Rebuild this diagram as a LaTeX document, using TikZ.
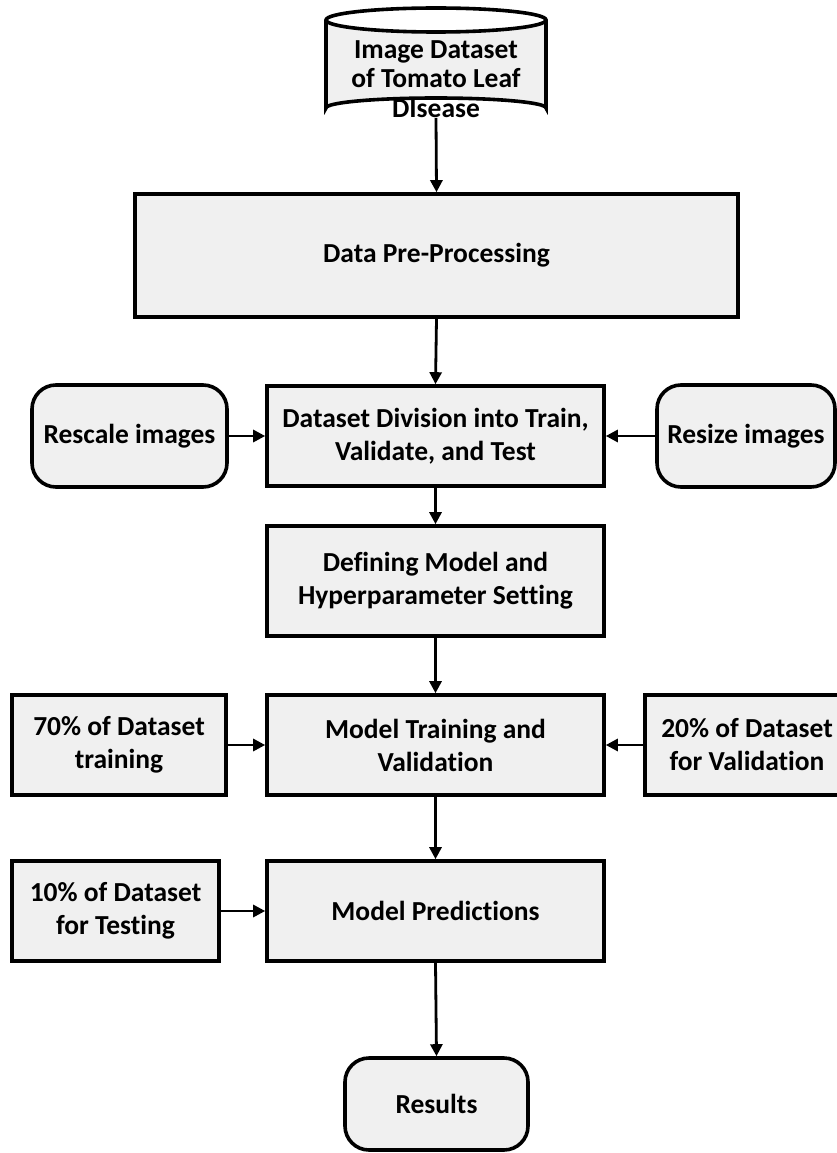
\documentclass[tikz,border=0pt]{standalone}
\usepackage{fontspec}
\setmainfont{Carlito}[Ligatures=NoCommon]
\usetikzlibrary{arrows.meta}

\definecolor{boxfill}{HTML}{F0F0F0}

\tikzset{
  base/.style={draw=black, line width=3.6pt, fill=boxfill, align=center,
    font=\fontsize{27.5}{33}\selectfont\bfseries, inner sep=0pt},
  stepbox/.style={base, rectangle},
  roundbox/.style={base, rectangle, rounded corners=24pt},
  flow/.style={line width=2.8pt, -{Triangle[length=12pt,width=12pt]}},
}

\begin{document}
\begin{tikzpicture}[x=1pt, y=-1pt]
  \useasboundingbox (0,0) rectangle (837,1153);

  % dataset store drawn as a cylinder
  \fill[boxfill] (326,20) -- (326,108) arc[start angle=180, end angle=360, x radius=110, y radius=10]
    -- (546,20) arc[start angle=0, end angle=180, x radius=110, y radius=12] -- cycle;
  \draw[line width=3.6pt] (326,20) -- (326,108) arc[start angle=180, end angle=360, x radius=110, y radius=10]
    -- (546,20);
  \draw[line width=3.6pt] (436,20) ellipse[x radius=110, y radius=12];
  \node[font=\fontsize{27.5}{29.5}\selectfont\bfseries, align=center, inner sep=0pt] (db) at (436,79)
    {Image Dataset\\of Tomato Leaf\\DIsease};
  \coordinate (dbbot) at (436,118);

  % processing chain
  \node[stepbox, minimum width=603pt, minimum height=123pt] (pre) at (436.5,255.5) {Data Pre-Processing};
  \node[stepbox, minimum width=337pt, minimum height=100pt] (div) at (435.5,436) {Dataset Division into Train,\\Validate, and Test};
  \node[roundbox, minimum width=195pt, minimum height=102pt] (rescale) at (129.5,436) {Rescale images};
  \node[roundbox, minimum width=178pt, minimum height=102pt] (resize) at (746,436) {Resize images};
  \node[stepbox, minimum width=337pt, minimum height=110pt] (def) at (435.5,581) {Defining Model and\\Hyperparameter Setting};
  \node[stepbox, minimum width=337pt, minimum height=100pt] (train) at (435.5,745) {Model Training and\\Validation};
  \node[stepbox, minimum width=214pt, minimum height=100pt] (p70) at (119,745) {70\% of Dataset\\training};
  \node[stepbox, minimum width=204pt, minimum height=100pt] (p20) at (747,745) {20\% of Dataset\\for Validation};
  \node[stepbox, minimum width=337pt, minimum height=100pt] (pred) at (435.5,911) {Model Predictions};
  \node[stepbox, minimum width=207pt, minimum height=100pt] (p10) at (115.5,911) {10\% of Dataset\\for Testing};
  \node[roundbox, minimum width=183pt, minimum height=92pt] (res) at (436.5,1104) {Results};

  % connectors
  \draw[flow] (dbbot) -- (pre.north);
  \draw[flow] (pre.south) -- (div.north);
  \draw[flow] (rescale.east) -- (div.west);
  \draw[flow] (resize.west) -- (div.east);
  \draw[flow] (div.south) -- (def.north);
  \draw[flow] (def.south) -- (train.north);
  \draw[flow] (p70.east) -- (train.west);
  \draw[flow] (p20.west) -- (train.east);
  \draw[flow] (train.south) -- (pred.north);
  \draw[flow] (p10.east) -- (pred.west);
  \draw[flow] (pred.south) -- (res.north);
\end{tikzpicture}
\end{document}
